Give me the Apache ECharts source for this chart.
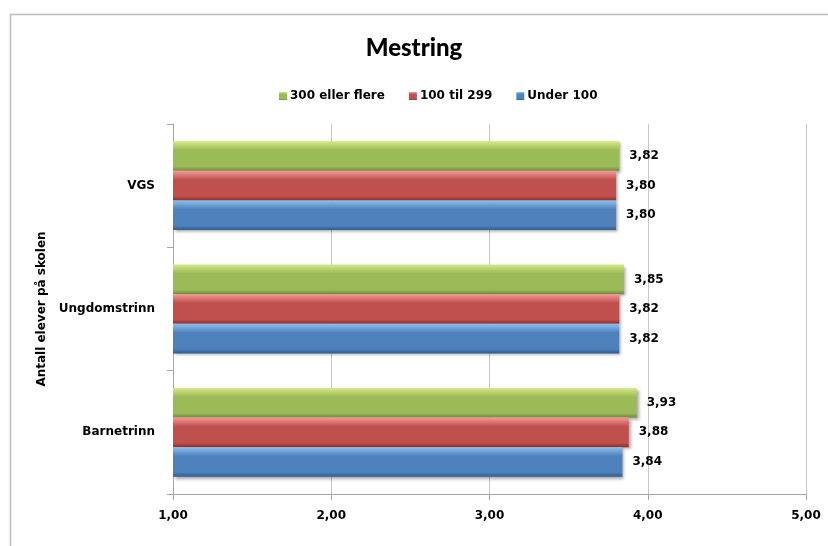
<!DOCTYPE html>
<html>
<head>
<meta charset="utf-8">
<script src="https://cdn.jsdelivr.net/npm/echarts@6/dist/echarts.min.js"></script>
<style>
html,body{margin:0;padding:0;background:#fff;}
#canvas{width:828px;height:546px;}
</style>
</head>
<body>
<div id="canvas"></div>
<script>
var categories = ['Barnetrinn', 'Ungdomstrinn', 'VGS'];
var under100 = [3.84, 3.82, 3.80];
var mid100til299 = [3.88, 3.82, 3.80];
var over300 = [3.93, 3.85, 3.82];
var xTicks = [1, 2, 3, 4, 5];

var titleFont = 'Lato';
var fontName = 'DejaVu Sans';

function grad(top, mid, bottom){
	return new echarts.graphic.LinearGradient(0, 0, 0, 1, [
		{offset: 0, color: top},
		{offset: 0.3, color: mid},
		{offset: 0.85, color: mid},
		{offset: 1, color: bottom}
	]);
}

function fmt(v){
	return v.toFixed(2).replace('.', ',');
}

function makeSeries(name, data, colors){
	return {
		name: name,
		type: 'bar',
		data: data,
		barGap: '0%',
		barCategoryGap: '28%',
		itemStyle: {
			color: grad(colors[0], colors[1], colors[2]),
			shadowColor: 'rgba(0,0,0,0.35)',
			shadowBlur: 3,
			shadowOffsetX: 2,
			shadowOffsetY: 2
		},
		label: {
			show: true,
			position: 'right',
			distance: 10,
			color: '#000',
			fontFamily: fontName,
			fontWeight: 'bold',
			fontSize: 12,
			formatter: function(p){ return fmt(p.value); }
		}
	};
}

var myChart = echarts.init(document.getElementById('canvas'));
var option = {
	backgroundColor: '#fff',
	animation: false,
	graphic: [{
		type: 'rect',
		shape: {x: 10.5, y: 14.5, width: 830, height: 540},
		style: {fill: 'none', stroke: '#bcbcbc', lineWidth: 1.5},
		silent: true
	}],
	title: {
		text: 'Mestring',
		left: 'center',
		top: 31,
		textStyle: {fontFamily: titleFont, fontWeight: 900, fontSize: 24, color: '#000'}
	},
	legend: {
		data: ['300 eller flere', '100 til 299', 'Under 100'],
		top: 85,
		left: 274,
		itemWidth: 8,
		itemHeight: 8,
		itemGap: 24,
		icon: 'rect',
		textStyle: {fontFamily: fontName, fontWeight: 'bold', fontSize: 12, color: '#000', padding: [0, 0, 0, -2]}
	},
	grid: {
		left: 173,
		right: 22,
		top: 124,
		bottom: 52
	},
	xAxis: {
		type: 'value',
		min: 1,
		max: 5,
		interval: 1,
		axisLine: {show: true, lineStyle: {color: '#a6a6a6'}},
		axisTick: {show: true, length: 6, lineStyle: {color: '#a6a6a6'}},
		splitLine: {show: true, lineStyle: {color: '#c8c8c8'}},
		axisLabel: {
			margin: 16,
			fontFamily: fontName,
			fontWeight: 'bold',
			fontSize: 12,
			color: '#000',
			formatter: function(v){ return fmt(v); }
		}
	},
	yAxis: {
		type: 'category',
		data: categories,
		name: 'Antall elever på skolen',
		nameLocation: 'middle',
		nameGap: 124,
		nameRotate: 90,
		nameTextStyle: {fontFamily: fontName, fontWeight: 'bold', fontSize: 12, color: '#000'},
		axisLine: {show: true, lineStyle: {color: '#a6a6a6'}},
		axisTick: {show: true, length: 6, lineStyle: {color: '#a6a6a6'}},
		axisLabel: {
			margin: 18,
			fontFamily: fontName,
			fontWeight: 'bold',
			fontSize: 12,
			color: '#000'
		}
	},
	series: [
		makeSeries('300 eller flere', over300, ['#d6ea84', '#9bbb59', '#6f8a36']),
		makeSeries('100 til 299', mid100til299, ['#f59a96', '#c0504d', '#8f2e2b']),
		makeSeries('Under 100', under100, ['#8cc0f0', '#4f81bd', '#2f5b8f'])
	]
};
myChart.setOption(option);
window.onresize = myChart.resize;
</script>
</body>
</html>
